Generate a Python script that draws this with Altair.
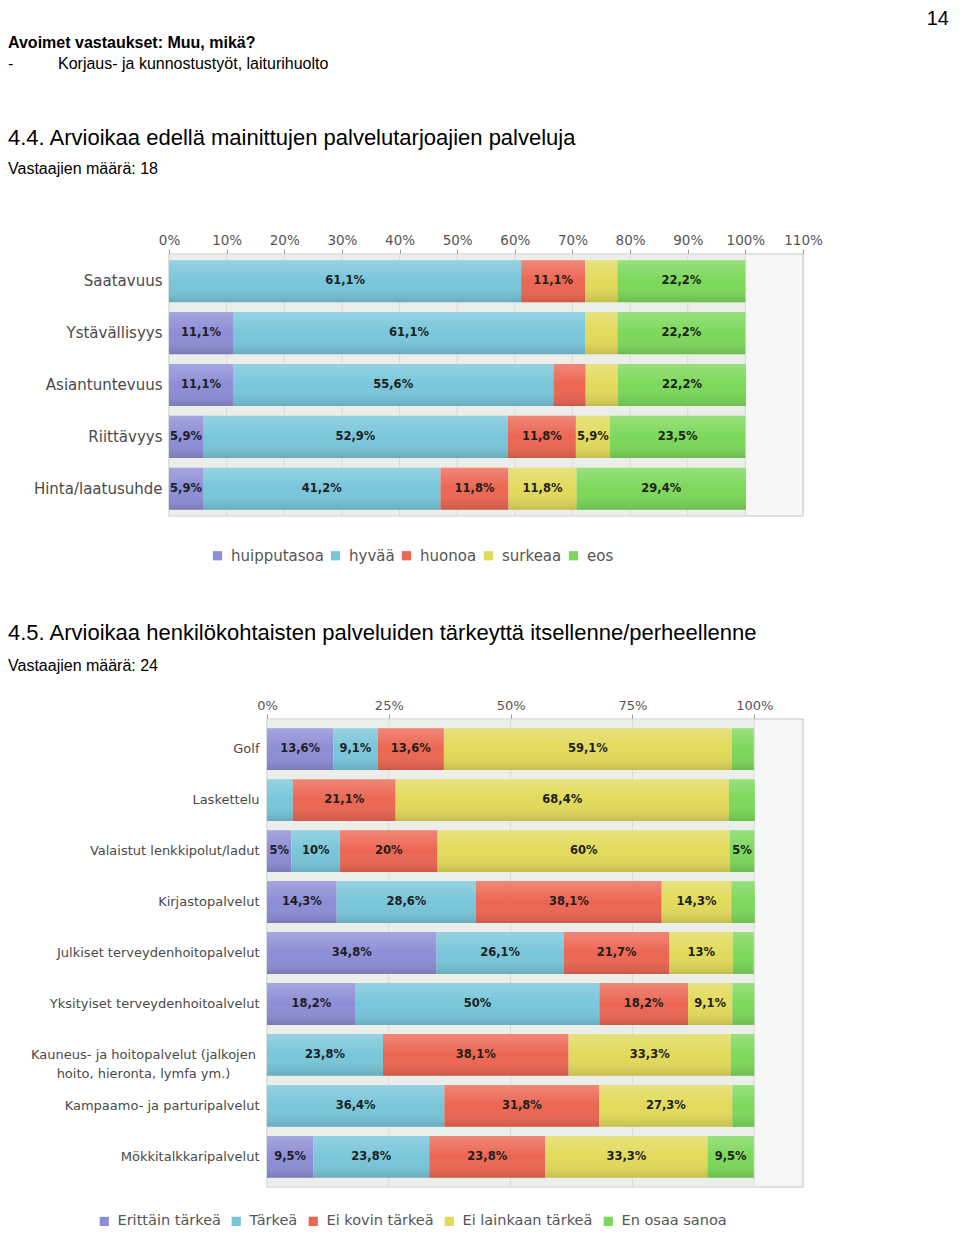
import altair as alt
import pandas as pd

# ---------------- data: chart 4.4 ----------------
rows1 = ["Saatavuus", "Ystävällisyys", "Asiantuntevuus", "Riittävyys", "Hinta/laatusuhde"]
cats1 = ["huipputasoa", "hyvää", "huonoa", "surkeaa", "eos"]
huipputasoa = [0, 11.1, 11.1, 5.9, 5.9]
hyvaa = [61.1, 61.1, 55.6, 52.9, 41.2]
huonoa = [11.1, 0, 5.6, 11.8, 11.8]
surkeaa = [5.6, 5.6, 5.6, 5.9, 11.8]
eos = [22.2, 22.2, 22.2, 23.5, 29.4]
ticks1 = [0, 10, 20, 30, 40, 50, 60, 70, 80, 90, 100, 110]
label_min1 = 5.8

# ---------------- data: chart 4.5 ----------------
kauneus = "Kauneus- ja hoitopalvelut (jalkojen hoito, hieronta, lymfa ym.)"
rows2 = ["Golf", "Laskettelu", "Valaistut lenkkipolut/ladut", "Kirjastopalvelut",
         "Julkiset terveydenhoitopalvelut", "Yksityiset terveydenhoitoalvelut",
         kauneus, "Kampaamo- ja parturipalvelut", "Mökkitalkkaripalvelut"]
cats2 = ["Erittäin tärkeä", "Tärkeä", "Ei kovin tärkeä", "Ei lainkaan tärkeä", "En osaa sanoa"]
erittain = [13.6, 0, 5, 14.3, 34.8, 18.2, 0, 0, 9.5]
tarkea = [9.1, 5.3, 10, 28.6, 26.1, 50, 23.8, 36.4, 23.8]
ei_kovin = [13.6, 21.1, 20, 38.1, 21.7, 18.2, 38.1, 31.8, 23.8]
ei_lainkaan = [59.1, 68.4, 60, 14.3, 13, 9.1, 33.3, 27.3, 33.3]
en_osaa = [4.5, 5.3, 5, 4.8, 4.3, 4.5, 4.8, 4.5, 9.5]
ticks2 = [0, 25, 50, 75, 100]
label_min2 = 5.0
unlabeled2 = [("Laskettelu", "Tärkeä"), ("Laskettelu", "En osaa sanoa")]

colors = ["#8d8dd6", "#78c6da", "#ec6652", "#e2da5a", "#7cd85a"]


def fmt(v):
    s = f"{v:.1f}"
    if s.endswith(".0"):
        s = s[:-2]
    return s.replace(".", ",") + "%"


def build(rows, cats, series, label_min, hidden=()):
    recs = []
    for i, r in enumerate(rows):
        start = 0.0
        for j, c in enumerate(cats):
            v = series[j][i]
            if v > 0:
                lab = fmt(v) if (v >= label_min and (r, c) not in hidden) else ""
                recs.append(dict(row=r, cat=c, idx=j, value=v, start=start,
                                 end=start + v, mid=start + v / 2, label=lab))
            start += v
    return pd.DataFrame(recs)


df1 = build(rows1, cats1, [huipputasoa, hyvaa, huonoa, surkeaa, eos], label_min1)
df2 = build(rows2, cats2, [erittain, tarkea, ei_kovin, ei_lainkaan, en_osaa], label_min2, unlabeled2)
one = pd.DataFrame({"k": [0]})

gradient = alt.LinearGradient(
    gradient="linear",
    stops=[alt.GradientStop(offset=0, color="rgba(255,255,255,0.22)"),
           alt.GradientStop(offset=0.5, color="rgba(255,255,255,0.0)"),
           alt.GradientStop(offset=1, color="rgba(0,0,0,0.13)")],
    x1=0, x2=0, y1=0, y2=1)

PAGE = "Liberation Sans"
CH = "DejaVu Sans"
W = 944


def panel(df, rows, cats, ticks, x0, x1, height, pi, po, tick_fs, ylab_fs, leg_fs,
          label_pad, legend_xy, leg_colpad, ybounds, texts, yaxis_extra=None):
    xscale = alt.Scale(domain=[0, 110], range=[x0, x1], nice=False, zero=True)
    yscale = alt.Scale(domain=rows, paddingInner=pi, paddingOuter=po)
    xaxis = alt.Axis(orient="top", values=ticks, labelExpr="datum.value + '%'",
                     labelFont=CH, labelFontSize=tick_fs, labelColor="#555555",
                     tickColor="#9a9a9a", tickSize=5, domainColor="#9a9a9a",
                     grid=False, labelPadding=2, title=None, labelOverlap=False,
                     labelFlush=False)
    yaxis_kw = dict(title=None, ticks=False, tickSize=0, labelPadding=label_pad,
                    labelFont=CH, labelFontSize=ylab_fs, labelColor="#4a4a4a",
                    domainColor="#8a8a8a", grid=False, labelLimit=400, offset=-x0)
    if yaxis_extra:
        yaxis_kw.update(yaxis_extra)
    yaxis = alt.Axis(**yaxis_kw)
    tdf = pd.DataFrame({"t": ticks})

    def X(f):
        return alt.X(f, scale=xscale, axis=xaxis, title=None)

    def Y():
        return alt.Y("row:N", sort=rows, scale=yscale, axis=yaxis, title=None)

    plotbg = alt.Chart(one).mark_rect(fill="#f7f7f7", stroke="#c4c4c4", strokeWidth=1).encode(
        x=alt.datum(0, scale=xscale), x2=alt.datum(110),
        y=alt.value(0), y2=alt.value(height))

    bg = alt.Chart(one).mark_rect(color="#eceeea").encode(
        x=alt.datum(0), x2=alt.datum(100),
        y=alt.value(0.5), y2=alt.value(height - 0.5))

    grid = alt.Chart(tdf).mark_rule(color="#d9dbd8", strokeWidth=1).encode(
        x=X("t:Q"), y=alt.value(0), y2=alt.value(height))

    bars = alt.Chart(df).mark_bar().encode(
        x=X("start:Q"), x2="end:Q", y=Y(),
        color=alt.Color("cat:N", scale=alt.Scale(domain=cats, range=colors),
                        legend=alt.Legend(orient="none", legendX=legend_xy[0], legendY=legend_xy[1],
                                          direction="horizontal", title=None, symbolType="square",
                                          symbolSize=85, symbolStrokeWidth=0, labelFont=CH,
                                          labelFontSize=leg_fs, labelColor="#555555",
                                          labelOffset=6, columnPadding=leg_colpad)))

    shade = alt.Chart(df).mark_bar(fill=gradient).encode(
        x=X("start:Q"), x2="end:Q", y=Y())

    labels = alt.Chart(df).mark_text(font=CH, fontWeight="bold", fontSize=11.5,
                                     color="#1e1e1e", baseline="middle").encode(
        x=X("mid:Q"), y=Y(), text="label:N")

    by0, by1 = ybounds
    frame = alt.Chart(one).mark_rule(stroke="white", strokeOpacity=0).encode(
        x=alt.value(0), x2=alt.value(W), y=alt.value(by0), y2=alt.value(by1))

    layers = [plotbg, bg, grid, bars, shade, labels, frame]
    for (txt, x, y, size, weight, align) in texts:
        layers.append(alt.Chart(one).mark_text(
            text=txt, font=PAGE, fontSize=size, fontWeight=weight, align=align,
            baseline="alphabetic", color="#000000").encode(x=alt.value(x), y=alt.value(y)))

    return alt.layer(*layers).properties(width=W, height=height)


texts1 = [
    ("14", 941, -229, 20, "normal", "right"),
    ("Avoimet vastaukset: Muu, mikä?", 0, -206, 16, "bold", "left"),
    ("-", 0, -185, 16, "normal", "left"),
    ("Korjaus- ja kunnostustyöt, laiturihuolto", 50, -185, 16, "normal", "left"),
    ("4.4. Arvioikaa edellä mainittujen palvelutarjoajien palveluja", 0, -109, 22, "normal", "left"),
    ("Vastaajien määrä: 18", 0, -80, 16, "normal", "left"),
]
texts2 = [
    ("4.5. Arvioikaa henkilökohtaisten palveluiden tärkeyttä itsellenne/perheellenne", 0, -79, 22, "normal", "left"),
    ("Vastaajien määrä: 24", 0, -48, 16, "normal", "left"),
]

test_k = "indexof(datum.value, 'Kauneus') >= 0"
extra2 = dict(
    labelExpr=test_k + " ? ['Kauneus- ja hoitopalvelut (jalkojen', 'hoito, hieronta, lymfa ym.)'] : datum.label",
    labelLineHeight=19,
    labelAlign={"condition": {"test": test_k, "value": "center"}, "value": "right"},
    labelPadding={"condition": {"test": test_k, "value": 124}, "value": 8},
)

v1 = panel(df1, rows1, cats1, ticks1, 161, 795, 262, 0.19, 0.12, 13.5, 15, 15, 7,
           (202, 294), 4, (-246, 336), texts1)
v2 = panel(df2, rows2, cats2, ticks2, 259, 795, 468, 0.18, 0.18, 13, 13, 14.5, 8,
           (89, 495), 8, (-129, 509), texts2, extra2)

chart = alt.vconcat(v1, v2, spacing=0).resolve_scale(
    color="independent").properties(padding=0).configure_view(fill=None, stroke=None)

chart.save("out.html", embed_options={"renderer": "svg", "actions": False})
